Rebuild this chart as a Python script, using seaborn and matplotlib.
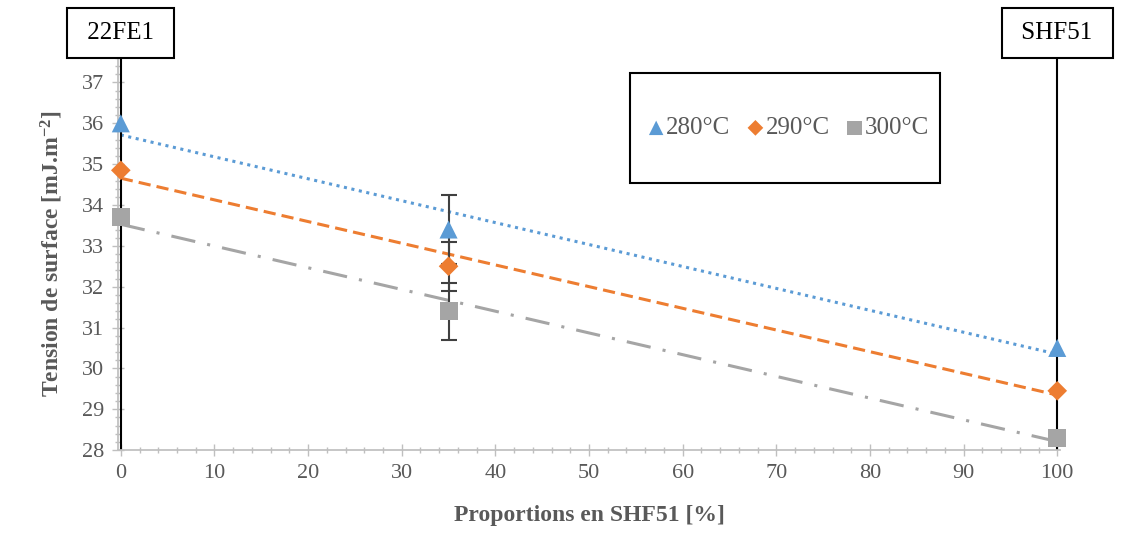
import numpy as np
import pandas as pd
import matplotlib
matplotlib.use('Agg')
import matplotlib.pyplot as plt
import seaborn as sns
from matplotlib.patches import Rectangle
from matplotlib.ticker import MultipleLocator

# data
proportions = [0, 35, 100]
series_names = ['280°C', '290°C', '300°C']
tension_280 = [36.0, 33.4, 30.5]
tension_290 = [34.85, 32.5, 29.45]
tension_300 = [33.7, 31.4, 28.3]
# error bars only exist for the 35 % mixture
err_280 = [np.nan, 0.85, np.nan]
err_290 = [np.nan, 0.6, np.nan]
err_300 = [np.nan, 0.7, np.nan]
end_labels = ['22FE1', 'SHF51']

colors = ['#5B9BD5', '#ED7D31', '#A5A5A5']
markers = ['^', 'D', 's']
marker_sizes = [13, 10, 13]
line_styles = [(0, (1, 1.5)), (0, (4, 2)), (0, (8, 4, 1, 4))]

sns.set_theme(style='white')
plt.rcParams['font.family'] = ['Liberation Serif', 'DejaVu Serif']
plt.rcParams['mathtext.default'] = 'regular'

fig = plt.figure(figsize=(11.27, 5.42), dpi=100)
ax = fig.add_axes([0.1047, 0.1697, 0.8359, 0.7233])

values = [tension_280, tension_290, tension_300]
errors = [err_280, err_290, err_300]

for name, vals, errs, c, m, ms, ls in zip(series_names, values, errors, colors, markers, marker_sizes, line_styles):
    df = pd.DataFrame({'x': proportions, 'y': vals, 'err': errs})
    # linear trend line fitted by seaborn
    sns.regplot(data=df, x='x', y='y', ax=ax, ci=None, scatter=False, truncate=True,
                line_kws={'color': c, 'linestyle': ls, 'linewidth': 2.2})
    eb = df.dropna()
    ax.errorbar(eb['x'], eb['y'], yerr=eb['err'], fmt='none', ecolor='#404040',
                elinewidth=1.5, capsize=6, capthick=1.5, zorder=3)
    sns.scatterplot(data=df, x='x', y='y', ax=ax, marker=m, color=c, s=ms ** 2,
                    edgecolor='none', zorder=4, label=name, clip_on=False)

ax.set_xlim(-0.3, 100.3)
ax.set_ylim(28, 37.6)
ax.set_xticks(range(0, 101, 10))
ax.set_yticks(range(28, 38))
ax.xaxis.set_minor_locator(MultipleLocator(2))
ax.yaxis.set_minor_locator(MultipleLocator(0.2))
ax.tick_params(axis='both', which='major', direction='inout', length=8, width=1,
               color='#BFBFBF', labelsize=16, labelcolor='#595959', pad=6)
ax.tick_params(axis='both', which='minor', direction='inout', length=5, width=1,
               color='#BFBFBF')
ax.tick_params(axis='x', which='both', bottom=True)
ax.tick_params(axis='y', which='both', left=True)

for side in ['top', 'right']:
    ax.spines[side].set_visible(False)
ax.spines['bottom'].set_color('#BFBFBF')
ax.spines['left'].set_color('#BFBFBF')

# vertical reference lines at the pure compounds, with boxed labels
for xpos, lab in zip([0, 100], end_labels):
    ax.axvline(xpos, color='black', linewidth=1.5, zorder=2)
    ax.annotate(' ' + lab + ' ', xy=(xpos, 1.0), xycoords=('data', 'axes fraction'),
                xytext=(0, 10), textcoords='offset points', ha='center', va='bottom',
                fontsize=18, color='black', annotation_clip=False,
                bbox=dict(boxstyle='square,pad=0.55', facecolor='white',
                          edgecolor='black', linewidth=1.5))

ax.set_xlabel('Proportions en SHF51 [%]', fontsize=17, fontweight='bold',
              color='#595959', labelpad=16)
ax.set_ylabel('Tension de surface [mJ.m$^{-2}$]', fontsize=17, fontweight='bold',
              color='#595959', labelpad=12)

# legend frame drawn separately: wide vertical padding, tight horizontal padding
ax.add_patch(Rectangle((0.5435, 0.681), 0.329, 0.281, transform=ax.transAxes,
                       facecolor='white', edgecolor='black', linewidth=1.5,
                       zorder=5, clip_on=False))
leg = ax.legend(loc='center', bbox_to_anchor=(0.708, 0.821), ncol=3, frameon=False,
                fontsize=18, handletextpad=-0.2, columnspacing=0.4, handlelength=1.2,
                borderpad=0, borderaxespad=0, labelcolor='#595959', markerscale=0.8)
leg.set_zorder(6)

ax.grid(False)
fig.savefig('out.png', dpi=100)
